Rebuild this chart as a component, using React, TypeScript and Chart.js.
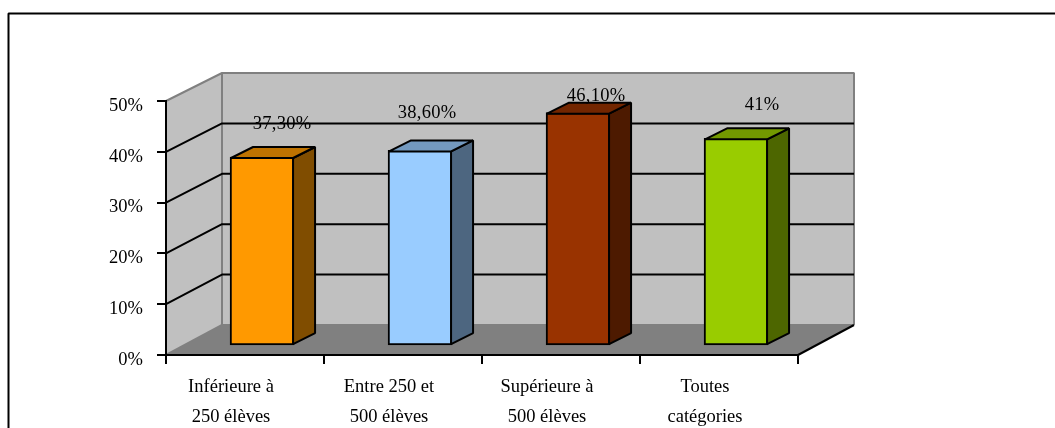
import React, { useEffect, useRef } from "react";
import { Chart, registerables } from "chart.js";

Chart.register(...registerables);

const categories = [
  ["Inférieure à", "250 élèves"],
  ["Entre 250 et", "500 élèves"],
  ["Supérieure à", "500 élèves"],
  ["Toutes", "catégories"],
];
const values = [37.3, 38.6, 46.1, 41];
const valueLabels = ["37,30%", "38,60%", "46,10%", "41%"];
const labelShiftX = [20, 7, 18, 26];
const labelShiftY = [-33, -37, -17, -33];
const frontColors = ["#FF9900", "#99CCFF", "#993300", "#99CC00"];
const topColors = ["#BF7300", "#7399BF", "#732600", "#739900"];
const sideColors = ["#804D00", "#4D6680", "#4D1A00", "#4D6600"];

const FONT = '"Liberation Serif", serif';
const WALL_DX = 56;
const WALL_DY = -28;
const FLOOR_DY = -30;
const BAR_DX = 22;
const BAR_DY = -11;

function poly(ctx: CanvasRenderingContext2D, pts: number[][], fill: string | null, stroke: string | null, lw = 2) {
  ctx.beginPath();
  pts.forEach(([x, y], i) => (i ? ctx.lineTo(x, y) : ctx.moveTo(x, y)));
  if (fill) {
    ctx.closePath();
    ctx.fillStyle = fill;
    ctx.fill();
  }
  if (stroke) {
    ctx.strokeStyle = stroke;
    ctx.lineWidth = lw;
    ctx.lineJoin = "bevel";
    ctx.stroke();
  }
}

// Frame, side wall, back wall, floor and wall gridlines behind the axes.
const roomPlugin = {
  id: "room",
  beforeDraw(chart: any) {
    const { ctx, chartArea: a, scales } = chart;
    const l = a.left, r = a.right, t = a.top, b = a.bottom;
    ctx.save();
    poly(ctx, [[8.5, 440], [8.5, 13.5], [1060, 13.5]], null, "#000000", 2);

    const bl = l + WALL_DX, br = r + WALL_DX, bt = t + WALL_DY, bb = b + FLOOR_DY;
    poly(ctx, [[l, b], [bl, bb], [bl, bt], [l, t]], "#C0C0C0", null);
    poly(ctx, [[bl, bt], [br, bt], [br, bb], [bl, bb]], "#C0C0C0", null);
    poly(ctx, [[l, b], [r, b], [br, bb], [bl, bb]], "#808080", null);

    poly(ctx, [[l, t], [bl, bt], [br, bt], [br, bb]], null, "#808080", 2);
    poly(ctx, [[bl, bt], [bl, bb], [br, bb]], null, "#808080", 2);
    poly(ctx, [[l, b], [bl, bb]], null, "#808080", 2);

    for (const tick of scales.y.ticks) {
      if (tick.value === 0 || tick.value === scales.y.max) continue;
      const y = scales.y.getPixelForValue(tick.value);
      const yBack = bb - ((b - y) * (bb - bt)) / (b - t);
      poly(ctx, [[l, y], [bl, yBack], [br, yBack]], null, "#000000", 2);
    }
    poly(ctx, [[r, b], [br, bb]], null, "#000000", 2);
    ctx.restore();
  },
  // Side and top faces of each column, then the value captions.
  afterDatasetsDraw(chart: any) {
    const { ctx } = chart;
    const bars = chart.getDatasetMeta(0).data;
    ctx.save();
    bars.forEach((bar: any, i: number) => {
      const x0 = bar.x - bar.width / 2 + 1;
      const x1 = bar.x + bar.width / 2 - 1;
      const top = bar.y + 1;
      const base = bar.base - 1;
      poly(ctx, [[x1, top], [x1 + BAR_DX, top + BAR_DY], [x1 + BAR_DX, base + BAR_DY], [x1, base]], sideColors[i], "#000000", 2);
      poly(ctx, [[x0, top], [x0 + BAR_DX, top + BAR_DY], [x1 + BAR_DX, top + BAR_DY], [x1, top]], topColors[i], "#000000", 2);
    });
    ctx.fillStyle = "#000000";
    ctx.font = `18.5px ${FONT}`;
    ctx.letterSpacing = "0.3px";
    ctx.textAlign = "center";
    ctx.textBaseline = "middle";
    bars.forEach((bar: any, i: number) => {
      ctx.fillText(valueLabels[i], bar.x + labelShiftX[i], bar.y + labelShiftY[i]);
    });
    ctx.restore();
  },
};

export default function App() {
  const ref = useRef<HTMLCanvasElement>(null);
  useEffect(() => {
    document.body.style.margin = "0";
    const chart = new Chart(ref.current!, {
      type: "bar",
      data: {
        labels: categories as any,
        datasets: [
          {
            data: values.map((v, i) => ({ x: i, y: v })) as any,
            xAxisID: "xBars",
            yAxisID: "yBars",
            backgroundColor: frontColors,
            borderColor: "#000000",
            borderWidth: 2,
            borderSkipped: false,
            barThickness: 64,
          },
        ],
      },
      options: {
        animation: false,
        responsive: false,
        layout: { padding: { left: 0, top: 101, right: 257, bottom: 0 } },
        plugins: { legend: { display: false }, tooltip: { enabled: false } },
        scales: {
          x: {
            type: "category",
            offset: true,
            afterFit: (s: any) => { s.height = 73; },
            border: { color: "#000000", width: 2 },
            grid: { drawOnChartArea: false, color: "#000000", lineWidth: 2, tickLength: 9, offset: true },
            ticks: {
              color: "#000000",
              font: { family: FONT, size: 18.5, lineHeight: 1.62 },
              padding: 8,
              labelOffset: -14,
              maxRotation: 0,
              autoSkip: false,
            },
          },
          y: {
            min: 0,
            max: 50,
            afterFit: (s: any) => { s.width = 166; },
            border: { color: "#000000", width: 2 },
            grid: { drawOnChartArea: false, color: "#000000", lineWidth: 2, tickLength: 9 },
            ticks: {
              stepSize: 10,
              color: "#000000",
              font: { family: FONT, size: 18.5 },
              padding: 14,
              labelOffset: 5,
              callback: (v: any) => `${v}%`,
            },
          },
          // Columns stand on the middle of the floor, so they use their own inset scales.
          xBars: { type: "linear", display: false, offset: false, min: -0.608, max: 3.392 },
          yBars: { type: "linear", display: false, min: -1.98, max: 48.41 },
        },
      },
      plugins: [roomPlugin],
    } as any);
    return () => chart.destroy();
  }, []);
  return (
    <div style={{ width: 1055, height: 428 }}>
      <canvas ref={ref} width={1055} height={428} style={{ display: "block" }} />
    </div>
  );
}
